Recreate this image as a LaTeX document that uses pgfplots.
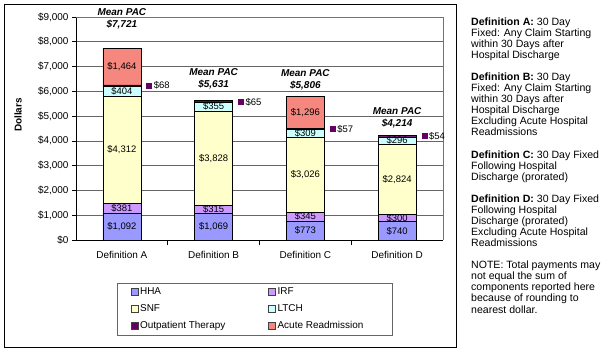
\documentclass[border=0pt]{standalone}
\usepackage{pgfplots}
\pgfplotsset{compat=1.18}
\usepackage{fontspec}
\setmainfont{Liberation Sans}
\definecolor{hha}{HTML}{9999FF}
\definecolor{irf}{HTML}{CC99FF}
\definecolor{snf}{HTML}{FFFFCC}
\definecolor{ltch}{HTML}{CCFFFF}
\definecolor{outp}{HTML}{660066}
\definecolor{acute}{HTML}{F5877F}
\begin{document}
\begin{tikzpicture}
\useasboundingbox (0,0) rectangle (613bp,353bp);
\draw[black, line width=0.8bp] (4bp,6bp) rectangle (456bp,349bp);
\begin{axis}[
  at={(76bp,113bp)}, anchor=south west, scale only axis,
  width=367bp, height=223bp,
  ybar stacked, bar width=38bp,
  xmin=-0.5, xmax=3.5, ymin=0, ymax=9000,
  xtick={0,1,2,3},
  xticklabels={Definition A,Definition B,Definition C,Definition D},
  minor xtick={0.5,1.5,2.5},
  ytick={0,1000,...,9000},
  yticklabel={\$\pgfmathprintnumber{\tick}},
  /pgf/number format/1000 sep={,},
  /pgf/number format/assume math mode=true,
  tick align=outside, major tick length=4bp, minor tick length=5bp,
  major x tick style={draw=none},
  minor x tick style={black, line width=0.6bp},
  y tick style={black, line width=0.6bp},
  axis x line*=bottom, axis y line*=left,
  axis line style={black, line width=0.8bp},
  ymajorgrids, major grid style={black!60, line width=0.6bp},
  tick label style={font=\fontsize{10}{12}\selectfont},
  xticklabel style={yshift=-4bp},
  clip=false,
  legend columns=2,
  legend cell align=left,
  legend style={at={(0.488,-0.193)}, anchor=north, draw=black!60, line width=0.6bp,
    font=\fontsize{10}{12}\selectfont, inner xsep=13bp, inner ysep=2.5bp, row sep=4.5bp,
    /tikz/every even column/.append style={column sep=2bp}},
  legend image code/.code={\draw[#1,draw=black!75,line width=0.5bp] (0bp,-3.5bp) rectangle (7bp,3.5bp);},
  every axis plot/.append style={draw=black, line width=0.6bp},
]
\addplot[fill=hha] coordinates {(0,1092) (1,1069) (2,773) (3,740)};
\addlegendentry{\makebox[124bp][l]{HHA}}
\addplot[fill=irf] coordinates {(0,381) (1,315) (2,345) (3,300)};
\addlegendentry{\makebox[100bp][l]{IRF}}
\addplot[fill=snf] coordinates {(0,4312) (1,3828) (2,3026) (3,2824)};
\addlegendentry{\makebox[124bp][l]{SNF}}
\addplot[fill=ltch] coordinates {(0,404) (1,355) (2,309) (3,296)};
\addlegendentry{\makebox[100bp][l]{LTCH}}
\addplot[fill=outp] coordinates {(0,68) (1,65) (2,57) (3,54)};
\addlegendentry{\makebox[124bp][l]{Outpatient Therapy}}
\addplot[fill=acute] coordinates {(0,1464) (1,0) (2,1296) (3,0)};
\addlegendentry{\makebox[100bp][l]{Acute Readmission}}

% segment label anchors (segment centres)
\coordinate (a1) at (axis cs:0,546);
\coordinate (a2) at (axis cs:0,1282);
\coordinate (a3) at (axis cs:0,3629);
\coordinate (a4) at (axis cs:0,5987);
\coordinate (a6) at (axis cs:0,6989);
\coordinate (b1) at (axis cs:1,535);
\coordinate (b2) at (axis cs:1,1227);
\coordinate (b3) at (axis cs:1,3298);
\coordinate (b4) at (axis cs:1,5390);
\coordinate (c1) at (axis cs:2,387);
\coordinate (c2) at (axis cs:2,946);
\coordinate (c3) at (axis cs:2,2631);
\coordinate (c4) at (axis cs:2,4299);
\coordinate (c6) at (axis cs:2,5158);
\coordinate (d1) at (axis cs:3,370);
\coordinate (d2) at (axis cs:3,890);
\coordinate (d3) at (axis cs:3,2452);
\coordinate (d4) at (axis cs:3,4012);
% outpatient labels
\tikzset{olab/.style={font=\fontsize{9.5}{11}\selectfont, anchor=west, xshift=4bp, inner sep=1bp}}
\node[olab] at (axis cs:0.21,6223) {\textcolor{outp}{\rule[0.3bp]{6bp}{6bp}}\,\$68};
\node[olab] at (axis cs:1.21,5560) {\textcolor{outp}{\rule[0.3bp]{6bp}{6bp}}\,\$65};
\node[olab] at (axis cs:2.21,4481) {\textcolor{outp}{\rule[0.3bp]{6bp}{6bp}}\,\$57};
\node[olab] at (axis cs:3.21,4187) {\textcolor{outp}{\rule[0.3bp]{6bp}{6bp}}\,\$54};
% mean PAC labels
\tikzset{mlab/.style={font=\bfseries\itshape\fontsize{10}{12}\selectfont, align=center, inner sep=0bp}}
\node[mlab] at (axis cs:0,8918) {Mean PAC\\\$7,721};
\node[mlab] at (axis cs:1,6497) {Mean PAC\\\$5,631};
\node[mlab] at (axis cs:2,6477) {Mean PAC\\\$5,806};
\node[mlab] at (axis cs:3,4923) {Mean PAC\\\$4,214};
% top/right plot-area border
\draw[black!55, line width=0.6bp] (rel axis cs:0,1) -- (rel axis cs:1,1) -- (rel axis cs:1,0);
\end{axis}
\tikzset{lab/.style={font=\fontsize{9.5}{11}\selectfont, inner sep=0.5bp}}
\node[lab] at (a1) {\$1,092};
\node[lab] at (a2) {\$381};
\node[lab] at (a3) {\$4,312};
\node[lab] at (a4) {\$404};
\node[lab] at (a6) {\$1,464};
\node[lab] at (b1) {\$1,069};
\node[lab] at (b2) {\$315};
\node[lab] at (b3) {\$3,828};
\node[lab] at (b4) {\$355};
\node[lab] at (c1) {\$773};
\node[lab] at (c2) {\$345};
\node[lab] at (c3) {\$3,026};
\node[lab] at (c4) {\$309};
\node[lab] at (c6) {\$1,296};
\node[lab] at (d1) {\$740};
\node[lab] at (d2) {\$300};
\node[lab] at (d3) {\$2,824};
\node[lab] at (d4) {\$296};
\node[rotate=90, font=\bfseries\fontsize{10}{12}\selectfont] at (18bp,238bp) {Dollars};
\node[anchor=north west, align=left, inner sep=0bp, font=\fontsize{10.6}{11.1}\selectfont] at (471bp,335.5bp) {%
\textbf{Definition A:} 30 Day\\
Fixed: Any Claim Starting\\
within 30 Days after\\
Hospital Discharge\\[11.1bp]
\textbf{Definition B:} 30 Day\\
Fixed: Any Claim Starting\\
within 30 Days after\\
Hospital Discharge\\
Excluding Acute Hospital\\
Readmissions\\[11.1bp]
\textbf{Definition C:} 30 Day Fixed\\
Following Hospital\\
Discharge (prorated)\\[11.1bp]
\textbf{Definition D:} 30 Day Fixed\\
Following Hospital\\
Discharge (prorated)\\
Excluding Acute Hospital\\
Readmissions\\[11.1bp]
NOTE: Total payments may\\
not equal the sum of\\
components reported here\\
because of rounding to\\
nearest dollar.};
\end{tikzpicture}
\end{document}
